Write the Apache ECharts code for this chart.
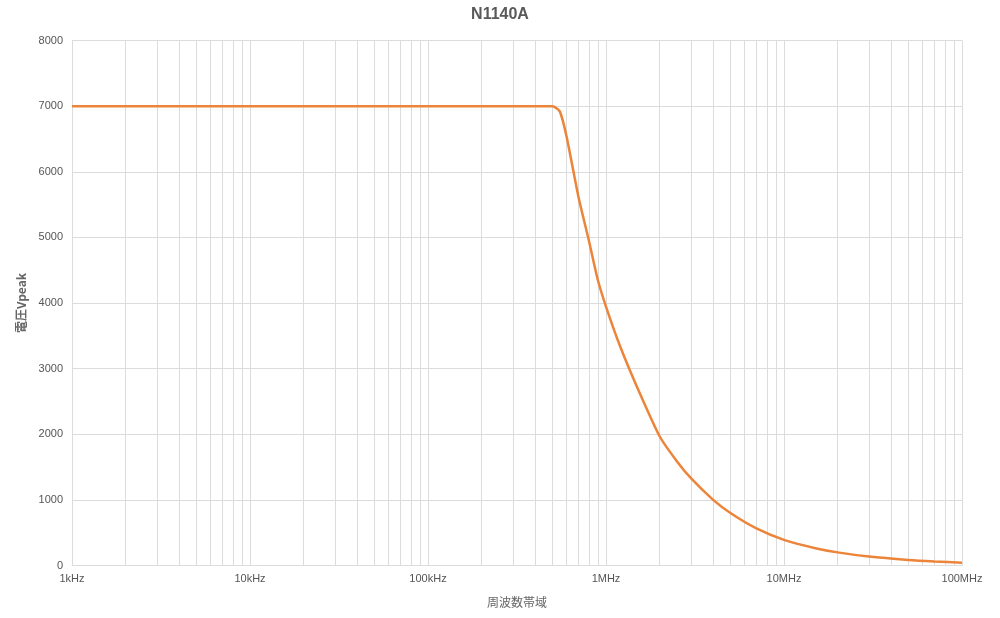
<!DOCTYPE html>
<html><head><meta charset="utf-8">
<script src="https://cdn.jsdelivr.net/npm/echarts@6/dist/echarts.min.js"></script>
<style>html,body{margin:0;padding:0;background:#fff}#c{width:1000px;height:618px}</style>
</head><body><div id="c"></div>
<script>
const title = 'N1140A';
const xName = '周波数帯域';
const yName = '電圧Vpeak';
// frequency in Hz
const freqHz = [1e3, 1e5, 5e5, 5.5e5, 6e5, 7e5, 8e5, 9e5, 1e6, 1.2e6, 1.5e6, 2e6, 2.5e6, 3e6, 4e6, 5e6, 7e6, 1e7, 1.5e7, 2e7, 3e7, 5e7, 7e7, 1e8];
const voltage = [7000, 7000, 7000, 6920, 6540, 5620, 4960, 4350, 3945, 3340, 2710, 1970, 1590, 1330, 1000, 800, 565, 390, 264, 200, 136, 84, 61, 43];
const xTickLabels = {1e3:'1kHz',1e4:'10kHz',1e5:'100kHz',1e6:'1MHz',1e7:'10MHz',1e8:'100MHz'};
const minorMultipliers = [2,3,4,5,6,7,8,9];
const decades = [1e3,1e4,1e5,1e6,1e7];

const minorLines = [];
decades.forEach(d => minorMultipliers.forEach(m => minorLines.push({xAxis: d*m})));

const chart = echarts.init(document.getElementById('c'));
const gridColor = '#dcdcdc';
chart.setOption({
  animation: false,
  backgroundColor: '#fff',
  title: {text: title, left: 'center', top: 2, textStyle: {fontSize: 16, fontWeight: 'bold', color: '#595959', fontFamily: 'Liberation Sans, Arial, sans-serif'}},
  grid: {left: 72, right: 38, top: 40.5, bottom: 52.5},
  xAxis: {
    type: 'log', logBase: 10, min: 1e3, max: 1e8,
    name: xName, nameLocation: 'middle', nameGap: 31,
    nameTextStyle: {color: '#666', fontSize: 12, fontFamily: 'Noto Sans CJK JP'},
    axisLine: {show: true, lineStyle: {color: gridColor}},
    axisTick: {show: false},
    axisLabel: {color: '#555', fontSize: 11, margin: 8, formatter: v => xTickLabels[Math.round(v)] || ''},
    splitLine: {show: true, lineStyle: {color: gridColor, width: 1}}
  },
  yAxis: {
    type: 'value', min: 0, max: 8000, interval: 1000,
    name: yName, nameLocation: 'middle', nameGap: 38, nameRotate: 90,
    nameTextStyle: {color: '#666', fontSize: 12, fontWeight: 'bold', fontFamily: 'Noto Sans CJK JP'},
    axisLine: {show: false},
    axisTick: {show: false},
    axisLabel: {color: '#555', fontSize: 11, margin: 9, formatter: v => String(v)},
    splitLine: {show: true, lineStyle: {color: gridColor, width: 1}}
  },
  series: [{
    type: 'line',
    data: freqHz.map((f, i) => [f, voltage[i]]),
    smooth: 0.2,
    showSymbol: false,
    lineStyle: {color: '#EC8439', width: 2.5},
    markLine: {
      silent: true, symbol: ['none','none'], label: {show: false},
      lineStyle: {color: gridColor, width: 1, type: 'solid'},
      data: minorLines, z: 0
    },
    z: 3
  }]
});
</script></body></html>
